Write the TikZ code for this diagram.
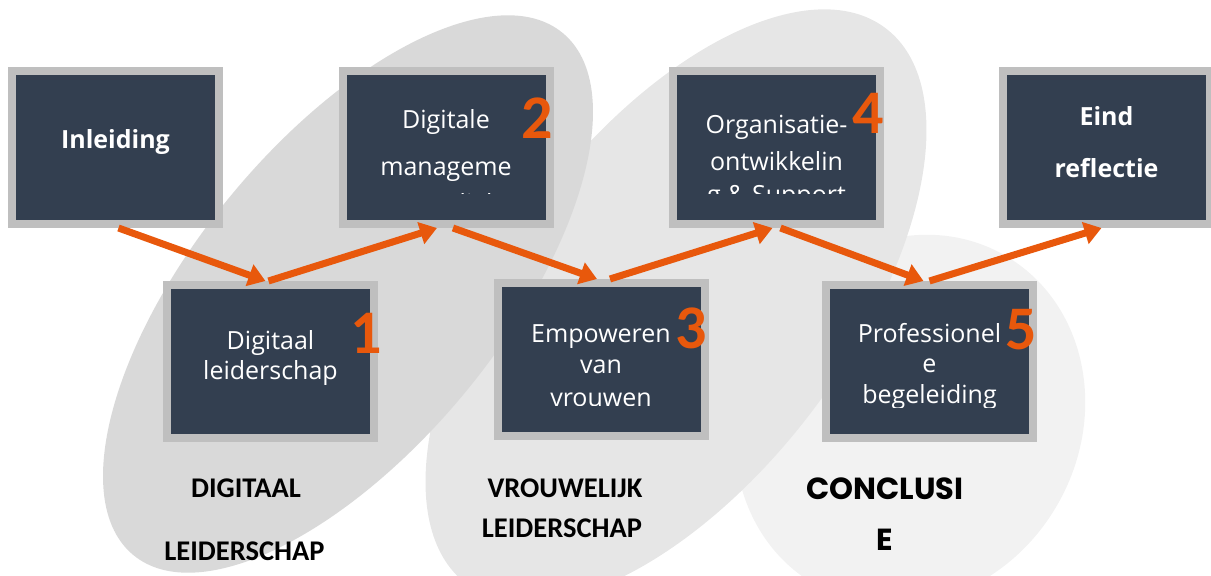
\documentclass[tikz,border=0pt]{standalone}
\usepackage{fontspec}
\setmainfont{Open Sans}
\newfontfamily\capfont{Carlito}
\newfontfamily\geofont{Poppins}
\usetikzlibrary{arrows.meta,calc}

\definecolor{slate}{HTML}{333F50}
\definecolor{tileframe}{HTML}{BFBFBF}
\definecolor{flame}{HTML}{E8580C}
\definecolor{ovalA}{HTML}{D9D9D9}
\definecolor{ovalB}{HTML}{E6E6E6}
\definecolor{ovalC}{HTML}{F2F2F2}

\tikzset{
  tile/.style={fill=slate, draw=tileframe, line width=8pt,
    minimum width=207pt, minimum height=153pt, inner sep=0pt},
  tline/.style={text=white, font=\fontsize{25}{30}\selectfont, anchor=base, inner sep=0pt},
  tbold/.style={text=white, font=\fontsize{25}{30}\selectfont\bfseries, anchor=base, inner sep=0pt},
  num/.style={text=flame, font=\capfont\bfseries\fontsize{62}{62}\selectfont, inner sep=0pt},
  flow/.style={draw=flame, line width=7pt, -{Triangle[width=22pt,length=17pt]}},
  theme/.style={font=\capfont\bfseries\fontsize{28.5}{30}\selectfont, anchor=base, inner sep=0pt},
  themegeo/.style={font=\geofont\bfseries\fontsize{30.5}{32}\selectfont, anchor=base, inner sep=0pt},
}

\begin{document}
\begin{tikzpicture}[x=1pt, y=-1pt]
\useasboundingbox (0,0) rectangle (1211,576);
\clip (0,0) rectangle (1211,576);

% background ovals grouping the themes
\fill[ovalC, rotate around={60:(910,420)}] (910,420) ellipse [x radius=190pt, y radius=170pt];
\fill[ovalB, rotate around={53:(676,306)}] (676,306) ellipse [x radius=348pt, y radius=172pt];
\fill[ovalA, rotate around={50.6:(348,294)}] (348,294) ellipse [x radius=338pt, y radius=153pt];

% tiles
\node[tile] (inl) at (115.5,147.5) {};
\node[tile] (b2)  at (446,147.5) {};
\node[tile] (b4)  at (776.5,147.5) {};
\node[tile] (eind) at (1106.5,147.5) {};
\node[tile] (b1)  at (270.5,361.5) {};
\node[tile] (b3)  at (601,359.5) {};
\node[tile] (b5)  at (929.5,361.5) {};

% tile texts, cut off where the text frame ends
\node[tbold] (inlt) at ($(inl.center)+(0,0.8)$) {Inleiding};
\node[tbold] (eindt1) at ($(eind.center)+(0,-22.5)$) {Eind};
\node[tbold] (eindt2) at ($(eind.center)+(0,29.5)$) {reflectie};

\begin{scope}
  \clip (b1.north west) rectangle ($(b1.south east)+(0,-35)$);
  \node[tline] (b1a) at ($(b1.center)+(0,-12.5)$) {Digitaal};
  \node[tline] (b1b) at ($(b1.center)+(0,17.5)$) {leiderschap};
\end{scope}
\begin{scope}
  \clip (b2.north west) rectangle ($(b2.south east)+(0,-35)$);
  \node[tline] (b2a) at ($(b2.center)+(0,-19.5)$) {Digitale};
  \node[tline] (b2b) at ($(b2.center)+(0,27.5)$) {manageme};
  \node[tline] (b2c) at ($(b2.center)+(0,65)$) {ntvaardighe};
\end{scope}
\begin{scope}
  \clip (b3.north west) rectangle ($(b3.south east)+(0,-35)$);
  \node[tline] (b3a) at ($(b3.center)+(0,-17.5)$) {Empoweren};
  \node[tline] (b3b) at ($(b3.center)+(0,13.5)$) {van};
  \node[tline] (b3c) at ($(b3.center)+(0,47)$) {vrouwen};
\end{scope}
\begin{scope}
  \clip (b4.north west) rectangle ($(b4.south east)+(0,-35)$);
  \node[tline] (b4a) at ($(b4.center)+(0,-14.5)$) {Organisatie-};
  \node[tline] (b4b) at ($(b4.center)+(0,22.5)$) {ontwikkelin};
  \node[tline] (b4c) at ($(b4.center)+(0,55.5)$) {g \& Support};
\end{scope}
\begin{scope}
  \clip (b5.north west) rectangle ($(b5.south east)+(0,-35)$);
  \node[tline] (b5a) at ($(b5.center)+(0,-19.5)$) {Professionel};
  \node[tline] (b5b) at ($(b5.center)+(0,10.5)$) {e};
  \node[tline] (b5c) at ($(b5.center)+(0,41.5)$) {begeleiding};
\end{scope}

% step numbers
\node[num] (n1) at ($(b1.center)+(95.5,-28.5)$) {1};
\node[num] (n2) at ($(b2.center)+(91,-29.5)$) {2};
\node[num] (n3) at ($(b3.center)+(90,-31.5)$) {3};
\node[num] (n4) at ($(b4.center)+(91.5,-34.5)$) {4};
\node[num] (n5) at ($(b5.center)+(91.5,-31.5)$) {5};

% zig-zag flow
\draw[flow] ($(inl.south)+(3,0)$) -- ($(b1.north)+(-5,0)$);
\draw[flow] ($(b1.north)+(-2,0)$) -- ($(b2.south)+(-9,0)$);
\draw[flow] ($(b2.south)+(7,0)$) -- ($(b3.north)+(-4,0)$);
\draw[flow] ($(b3.north)+(9,0)$) -- ($(b4.south)+(-4,0)$);
\draw[flow] ($(b4.south)+(4,0)$) -- ($(b5.north)+(-6,0)$);
\draw[flow] ($(b5.north)+(0,0)$) -- ($(eind.south)+(-5,0)$);

% theme labels
\node[theme] (th1a) at (246,497) {DIGITAAL};
\node[theme] (th1b) at (244.5,560) {LEIDERSCHAP};
\node[theme] (th2a) at (565,497) {VROUWELIJK};
\node[theme] (th2b) at (562,537) {LEIDERSCHAP};
\node[themegeo] (th3a) at (885,499) {CONCLUSI};
\node[themegeo] (th3b) at (885,550) {E};
\end{tikzpicture}
\end{document}
